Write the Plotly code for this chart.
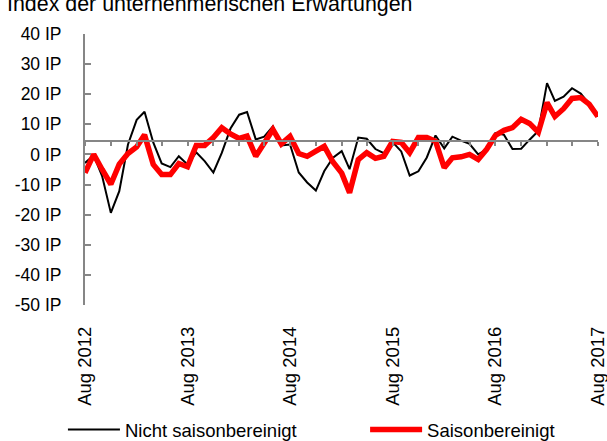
import plotly.graph_objects as go
import pandas as pd

months = pd.date_range("2012-08-01", "2017-08-01", freq="MS")

nicht_saisonbereinigt = [
    -2.8, -0.3, -7.2, -19.4, -12.2, 3.3, 11.5, 14.2, 4.0, -3.0,
    -4.2, -0.6, -3.3, 0.7, -2.2, -6.0, 0.5, 8.6, 13.2, 14.1,
    5.0, 5.9, 9.3, 3.0, 3.3, -6.0, -9.3, -12.0, -5.5, -1.1,
    1.1, -4.9, 5.6, 5.2, 1.8, 0.4, 4.1, 1.0, -7.0, -5.6,
    -1.0, 6.3, 2.0, 5.9, 4.6, 3.5, 0.0, 1.7, 7.1, 6.5,
    1.8, 1.9, 4.9, 7.8, 23.7, 17.8, 19.2, 22.0, 20.2, 16.8,
    12.6,
]

saisonbereinigt = [
    -6.1, 0.0, -5.0, -9.9, -3.2, 0.3, 2.5, 6.5, -3.3, -6.7,
    -6.7, -3.0, -4.1, 3.0, 3.0, 5.6, 8.9, 6.8, 5.3, 6.1,
    -0.6, 3.9, 8.3, 3.5, 6.0, 0.3, -0.6, 1.1, 2.7, -2.5,
    -6.2, -12.7, -1.7, 0.6, -1.3, -0.6, 4.3, 4.0, 0.6, 5.6,
    5.6, 4.4, -4.4, -1.1, -0.8, 0.0, -1.7, 1.7, 6.3, 8.0,
    8.9, 11.7, 10.3, 7.4, 17.2, 12.6, 15.2, 18.6, 18.9, 16.7,
    12.6,
]

y_tickvals = [40, 30, 20, 10, 0, -10, -20, -30, -40, -50]
y_ticktext = ["40 IP", "30 IP", "20 IP", "10 IP", "0 IP", "-10 IP", "-20 IP", "-30 IP", "-40 IP", "-50 IP"]

quarter_ticks = pd.date_range("2012-08-01", "2017-08-01", freq="3MS")
x_ticktext = [d.strftime("Aug %Y") if d.month == 8 else "" for d in quarter_ticks]

title_text = "Index der unternehmerischen Erwartungen"
axis_cross = 4.4  # value where horizontal axis crosses
y_min, y_max = -50, 40
cross_pos = (axis_cross - y_min) / (y_max - y_min)
x_range = ["2012-08-01", "2017-08-01 12:00"]

FONT = "Liberation Sans, Arial, sans-serif"
GREY = "#868686"

fig = go.Figure()
fig.add_trace(go.Scatter(x=months, y=nicht_saisonbereinigt, mode="lines",
                         name="Nicht saisonbereinigt", legend="legend",
                         line=dict(color="#000000", width=2)))
fig.add_trace(go.Scatter(x=months, y=saisonbereinigt, mode="lines",
                         name="Saisonbereinigt", legend="legend2",
                         line=dict(color="#FF0000", width=5.5)))

legend_common = dict(orientation="h", xanchor="left", yanchor="middle",
                     itemwidth=52, bgcolor="rgba(0,0,0,0)",
                     font=dict(size=18.5), borderwidth=0)

fig.update_layout(
    width=607, height=441,
    margin=dict(l=85, r=9, t=34, b=136, autoexpand=False),
    paper_bgcolor="white", plot_bgcolor="white",
    font=dict(family=FONT, size=18, color="#000000"),
    showlegend=True,
    legend=dict(x=-0.043, y=-0.461, **legend_common),
    legend2=dict(x=0.546, y=-0.461, **legend_common),
    xaxis=dict(
        type="date", automargin=False,
        range=x_range,
        anchor="free", position=cross_pos,
        showline=True, linecolor=GREY, linewidth=2,
        ticks="outside", ticklen=4, tickwidth=1.5, tickcolor=GREY,
        tickvals=quarter_ticks, ticktext=x_ticktext,
        tickangle=-90, ticklabelstandoff=173, ticklabeloverflow="allow",
        tickfont=dict(size=18.5),
        showgrid=False, zeroline=False,
    ),
    xaxis2=dict(
        type="date", automargin=False,
        overlaying="x", matches="x",
        range=x_range,
        anchor="free", position=cross_pos, side="top",
        showline=False,
        ticks="outside", ticklen=4, tickwidth=1.5, tickcolor=GREY,
        tickvals=quarter_ticks, showticklabels=False,
        showgrid=False, zeroline=False,
    ),
    yaxis=dict(
        range=[y_min, y_max], automargin=False,
        showline=True, linecolor=GREY, linewidth=2,
        ticks="inside", ticklen=6, tickwidth=1.5, tickcolor=GREY,
        tickvals=y_tickvals, ticktext=y_ticktext,
        ticklabelstandoff=18,
        showgrid=False, zeroline=False,
        tickfont=dict(size=17.5),
    ),
    annotations=[dict(text=title_text, xref="paper", yref="paper",
                      x=-0.155, xanchor="left", y=1.109, yanchor="middle",
                      showarrow=False, font=dict(size=21.4, color="#000000"))],
)

fig.write_html("out.html", config={"displayModeBar": False},
               post_script="document.body.style.margin='0px';")
